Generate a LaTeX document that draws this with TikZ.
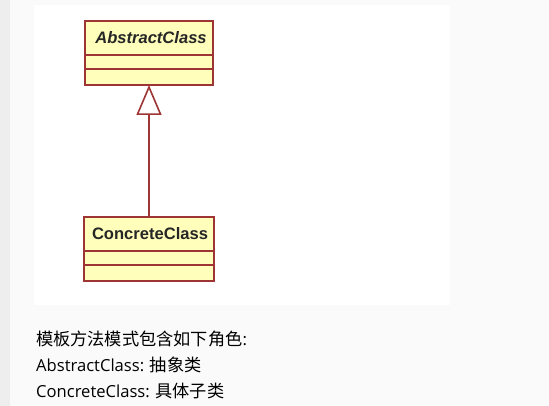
\documentclass[tikz,border=0pt]{standalone}
\usepackage{fontspec}
\newfontfamily\cjk{Noto Sans CJK SC}
\newfontfamily\latin{Open Sans}
\newfontfamily\umlfont{Liberation Sans}
\usetikzlibrary{arrows.meta}
\definecolor{umlborder}{RGB}{158,52,52}
\definecolor{umlfill}{RGB}{255,255,187}
\definecolor{pagebg}{RGB}{250,250,250}
\definecolor{stripbg}{RGB}{238,238,238}
\newlength\fitlen
\newcommand\fitsize[4]{%
  \settowidth\fitlen{#2\fontsize{10}{12}\selectfont #3}%
  \pgfmathsetmacro#1{10*#4/\fitlen}%
  \global\let#1#1}
\AtBeginDocument{%
  \fitsize{\latsize}{\latin}{AbstractClass:}{108}%
  \fitsize{\umlsize}{\umlfont\bfseries}{ConcreteClass}{116}}
\tikzset{
  comp/.style={draw=umlborder, fill=umlfill, line width=1.6pt, inner sep=0pt, outer sep=0pt, anchor=north west, minimum width=#1},
  clsname/.style={font=\umlfont\bfseries\fontsize{\umlsize}{\umlsize}\selectfont, text=black!85, inner sep=0pt, anchor=base},
  desc/.style={font=\latin\fontsize{\latsize}{\latsize}\selectfont, anchor=base west, inner sep=0pt, text=black},
}
\newcommand{\zh}[1]{{\cjk\fontsize{17.2}{19}\selectfont #1}}
\begin{document}
\begin{tikzpicture}[x=1pt,y=-1pt]
\useasboundingbox (0,0) rectangle (549,406);
\fill[pagebg] (0,0) rectangle (549,406);
\fill[stripbg] (0,0) rectangle (10,406);
\fill[white] (34,5) rectangle (450,305);
% AbstractClass
\node[comp=128pt, minimum height=34pt] (a1) at (85,21) {};
\node[comp=128pt, minimum height=14pt] (a2) at (a1.south west) {};
\node[comp=128pt, minimum height=16pt] (a3) at (a2.south west) {};
\node[clsname] (an) at (151,44) {\itshape AbstractClass};
% ConcreteClass
\node[comp=130pt, minimum height=34pt] (c1) at (84,217) {};
\node[comp=130pt, minimum height=14pt] (c2) at (c1.south west) {};
\node[comp=130pt, minimum height=16pt] (c3) at (c2.south west) {};
\node[clsname] (cn) at (150,240) {ConcreteClass};
% generalization
\draw[umlborder, line width=1.6pt, -{Triangle[open, length=30pt, width=25pt, line join=miter, fill=white]}] (c1.north) -- (c1.north |- a3.south);
% description
\node[desc] (t1) at (36,345) {\zh{模板方法模式包含如下角色}:};
\node[desc] (t2) at (36,371) {AbstractClass: \zh{抽象类}};
\node[desc] (t3) at (36,397) {ConcreteClass: \zh{具体子类}};
\end{tikzpicture}
\end{document}
